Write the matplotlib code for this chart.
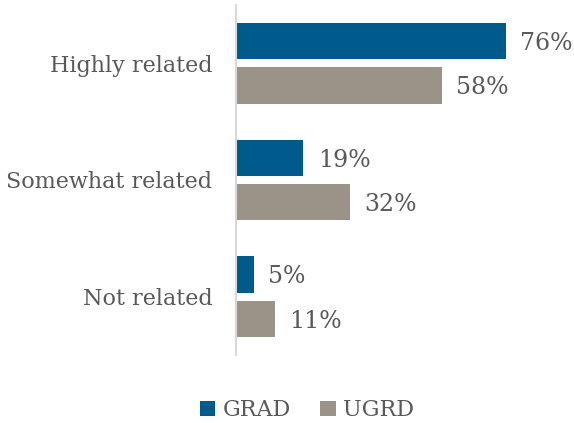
import matplotlib
matplotlib.use("Agg")
import matplotlib.pyplot as plt
import numpy as np

categories = ["Highly related", "Somewhat related", "Not related"]
grad = [76, 19, 5]
ugrd = [58, 32, 11]
series_names = ["GRAD", "UGRD"]
colors = ["#005A8B", "#9B9288"]
text_color = "#595959"

plt.rcParams['font.family'] = ['DejaVu Serif']

fig = plt.figure(figsize=(5.74, 4.23), dpi=100)
ax = fig.add_axes([0.411, 0.161, 0.5575, 0.827])

y = np.arange(len(categories))
h = 0.31
off = 0.19
b1 = ax.barh(y - off, grad, height=h, color=colors[0], label=series_names[0])
b2 = ax.barh(y + off, ugrd, height=h, color=colors[1], label=series_names[1])

for bars, vals in ((b1, grad), (b2, ugrd)):
    for rect, v in zip(bars, vals):
        ax.text(rect.get_width() + 4, rect.get_y() + rect.get_height() / 2 + 0.02, f"{v}%",
                va="center", ha="left", fontsize=17, color=text_color)

ax.set_xlim(0, 90)
ax.set_ylim(2.5, -0.5)
ax.set_yticks(y)
ax.set_yticklabels(categories, fontsize=16, color=text_color)
ax.tick_params(axis='y', length=0, pad=17)
ax.set_xticks([])
for s in ("top", "right", "bottom"):
    ax.spines[s].set_visible(False)
ax.spines["left"].set_color("#D9D9D9")
ax.spines["left"].set_linewidth(1.5)

leg = fig.legend(handles=[b1, b2], labels=series_names, loc="center", bbox_to_anchor=(0.535, 0.03),
                 ncol=2, frameon=False, fontsize=16, handlelength=0.7, handleheight=0.7,
                 handletextpad=0.35, columnspacing=1.3)
for t in leg.get_texts():
    t.set_color(text_color)

fig.savefig("out.png", dpi=100)
